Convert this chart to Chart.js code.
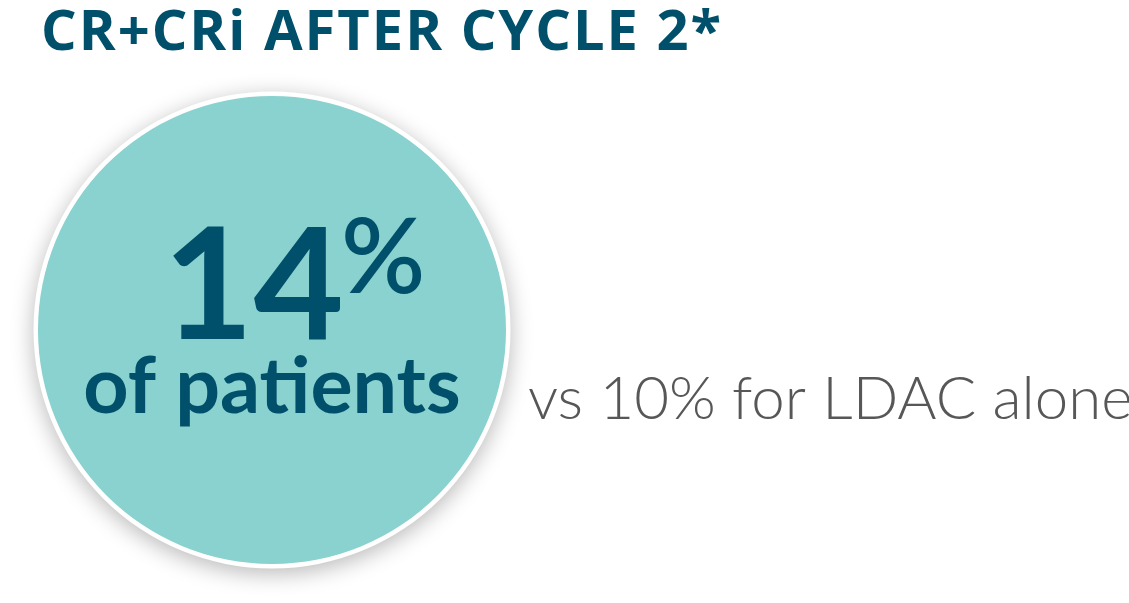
<!DOCTYPE html>
<html lang="en">
    <head>
        <meta charset="UTF-8">
        <title>CR+CRi after cycle 2</title>
        <script src="https://cdn.jsdelivr.net/npm/chart.js"></script>
        <style>
            html, body { margin: 0; padding: 0; background: #fff; }
            #wrap { width: 1129px; height: 603px; position: relative; }
            #wrap h2 {
                position: absolute; left: 41px; top: 0; margin: 0;
                font: 700 56px/1 'Open Sans', sans-serif; color: #00506b;
                letter-spacing: 2px; white-space: nowrap;
            }
        </style>
    </head>
    <body>
        <div id="wrap">
            <h2 id="chartTitle"></h2>
            <canvas id="crChart"></canvas>
        </div>

        <script>
            const categories = ['CR+CRi AFTER CYCLE 2*'];
            const comboPct = [14];
            const ldacPct = [10];
            const subLabel = 'of patients';
            const compareLabel = 'LDAC alone';

            const darkTeal = '#00506b';
            document.getElementById('chartTitle').textContent = categories[0];

            // white rim + soft shadow behind the disc, then the texts on top
            const circleText = {
                id: 'circleText',
                beforeDatasetsDraw(chart) {
                    const arc = chart.getDatasetMeta(0).data[0];
                    const ctx = chart.ctx;
                    ctx.save();
                    ctx.shadowColor = 'rgba(0,0,0,0.28)';
                    ctx.shadowBlur = 22;
                    ctx.shadowOffsetY = 5;
                    ctx.fillStyle = '#fff';
                    ctx.beginPath();
                    ctx.arc(arc.x, arc.y, arc.outerRadius + 4.5, 0, Math.PI * 2);
                    ctx.fill();
                    ctx.restore();
                },
                afterDatasetsDraw(chart) {
                    const arc = chart.getDatasetMeta(0).data[0];
                    const r = arc.outerRadius;
                    const ctx = chart.ctx;
                    ctx.save();
                    ctx.fillStyle = darkTeal;
                    ctx.textBaseline = 'alphabetic';

                    ctx.font = 'bold 156px Lato';
                    ctx.textAlign = 'right';
                    ctx.fillText(String(comboPct[0]), arc.x + 72, arc.y + 9);

                    ctx.font = '600 104px Lato';
                    ctx.textAlign = 'left';
                    ctx.fillText('%', arc.x + 69, arc.y - 37);

                    ctx.font = 'bold 79px Lato';
                    ctx.textAlign = 'center';
                    ctx.fillText(subLabel, arc.x, arc.y + 83);

                    ctx.fillStyle = '#575757';
                    ctx.font = '300 60px Lato';
                    ctx.textAlign = 'left';
                    ctx.fillText('vs ' + ldacPct[0] + '% for ' + compareLabel, r + arc.x + 22, arc.y + 89);
                    ctx.restore();
                }
            };

            const ctx = document.getElementById('crChart').getContext('2d');
            const chart = new Chart(ctx, {
                type: 'pie',
                data: {
                    labels: categories,
                    datasets: [{
                        data: comboPct,
                        backgroundColor: '#8ad2cf',
                        borderWidth: 0
                    }]
                },
                options: {
                    responsive: true,
                    maintainAspectRatio: false,
                    animation: false,
                    events: [],
                    radius: 234,
                    layout: {
                        padding: { left: 41, right: 626, top: 92, bottom: 35 }
                    },
                    plugins: {
                        legend: { display: false },
                        tooltip: { enabled: false }
                    }
                },
                plugins: [circleText]
            });
        </script>
    </body>
</html>
